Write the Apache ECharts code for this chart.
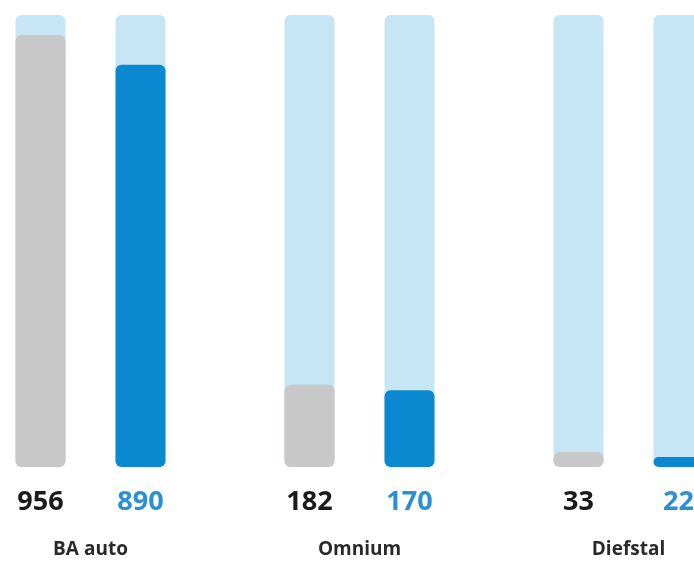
<!DOCTYPE html>
<html>
<head>
<meta charset="utf-8">
<script src="https://cdn.jsdelivr.net/npm/echarts@6/dist/echarts.min.js"></script>
<style>
html,body{margin:0;padding:0;background:#fff;}
#chart{width:694px;height:562px;}
</style>
</head>
<body>
<div id="chart"></div>
<script>
var categories = ['BA auto', 'Omnium', 'Diefstal'];
var greyValues = [956, 182, 33];
var blueValues = [890, 170, 22];
var axisMax = 1000;

var chart = echarts.init(document.getElementById('chart'), null, {renderer: 'canvas'});
var font = '"Open Sans", "Noto Sans", sans-serif';
var bgStyle = {color: '#c6e6f6', borderRadius: 6};
chart.setOption({
  animation: false,
  grid: {left: -44, right: -69, top: 15, bottom: 95, containLabel: false, outerBoundsMode: 'none'},
  xAxis: {
    type: 'category',
    data: categories,
    axisLine: {show: false},
    axisTick: {show: false},
    axisLabel: {margin: 73, fontFamily: font, fontWeight: 'bold', fontSize: 19, color: '#2a2a2a'}
  },
  yAxis: {type: 'value', min: 0, max: axisMax, show: false, splitLine: {show: false}},
  series: [
    {
      type: 'bar', data: greyValues, barWidth: 50, barGap: '100%',
      showBackground: true, backgroundStyle: bgStyle,
      itemStyle: {color: '#c8c8c8', borderRadius: 6},
      label: {show: true, position: 'bottom', distance: 22, fontFamily: font, fontWeight: 'bold', fontSize: 27, color: '#1b1b1b'}
    },
    {
      type: 'bar', data: blueValues, barWidth: 50, barGap: '100%',
      showBackground: true, backgroundStyle: bgStyle,
      itemStyle: {color: '#0a88d0', borderRadius: 6},
      label: {show: true, position: 'bottom', distance: 22, fontFamily: font, fontWeight: 'bold', fontSize: 27, color: '#2b8fd3'}
    }
  ]
});
</script>
</body>
</html>
